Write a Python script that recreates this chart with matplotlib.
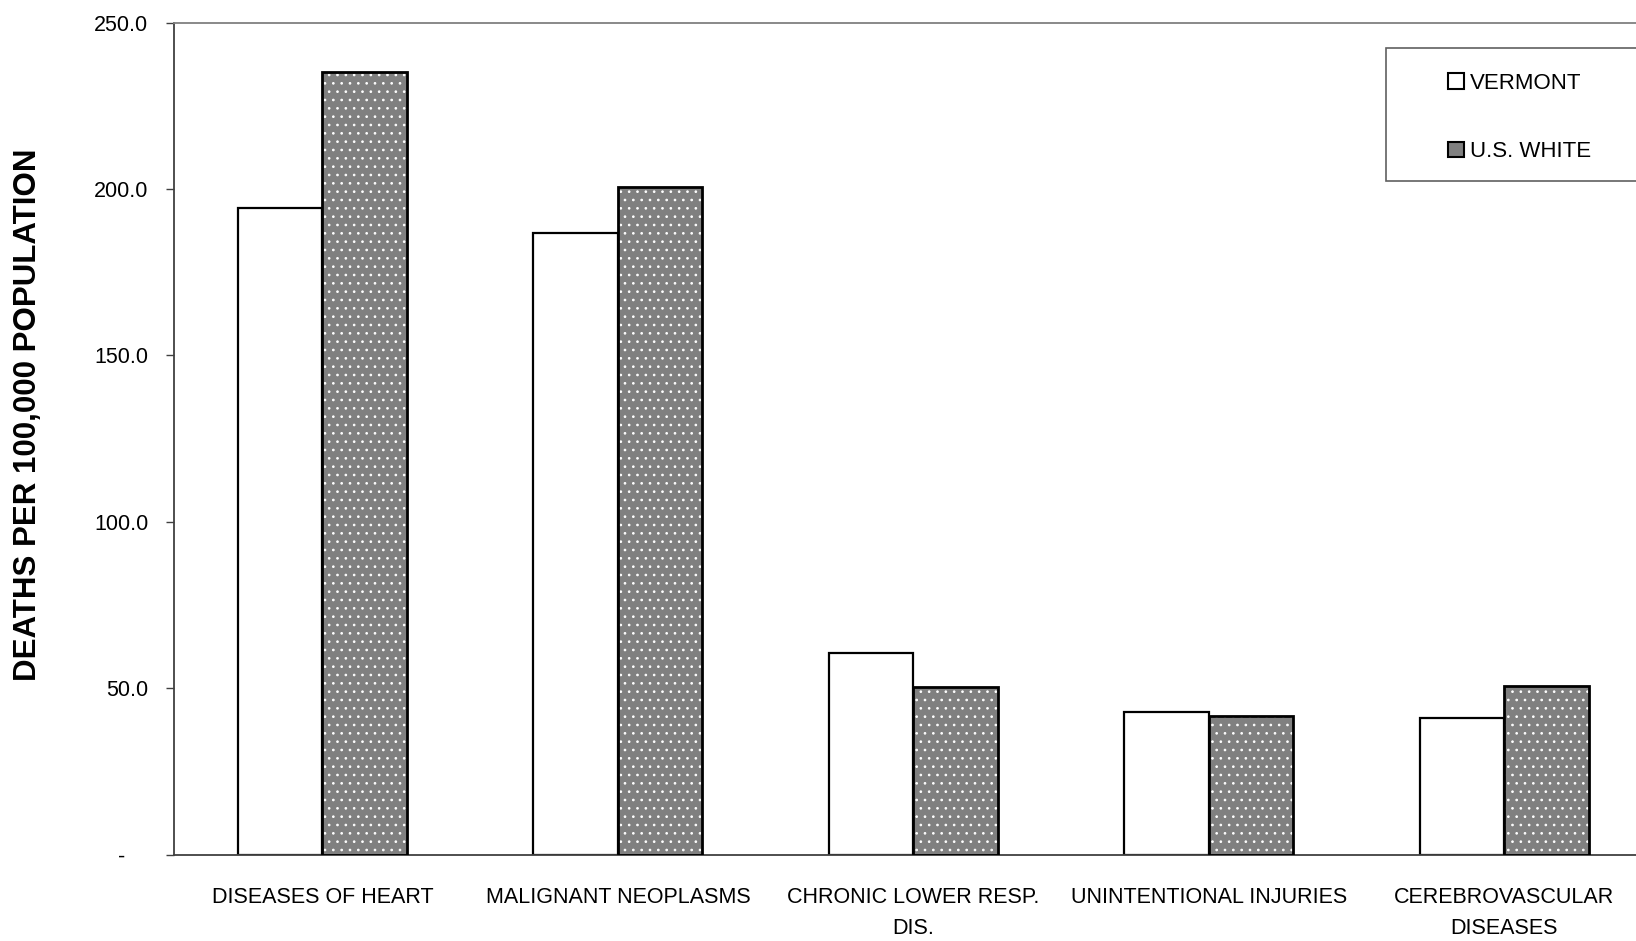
import matplotlib
matplotlib.use("Agg")
import matplotlib.pyplot as plt
import matplotlib.transforms as mtransforms
from matplotlib.patches import Rectangle, Patch
from matplotlib import font_manager
import numpy as np

categories = ["DISEASES OF HEART", "MALIGNANT NEOPLASMS", "CHRONIC LOWER RESP.\nDIS.",
              "UNINTENTIONAL INJURIES", "CEREBROVASCULAR\nDISEASES"]
vermont = [194.4, 186.9, 60.7, 42.9, 41.0]
us_white = [235.3, 200.6, 50.2, 41.6, 50.5]
yticks = [0, 50, 100, 150, 200, 250]
ytick_labels = ["-", "50.0", "100.0", "150.0", "200.0", "250.0"]

names = {f.name for f in font_manager.fontManager.ttflist}
narrow = "Liberation Sans Narrow" if "Liberation Sans Narrow" in names else "Liberation Sans"
plt.rcParams["font.family"] = [narrow, "DejaVu Sans"]
plt.rcParams["hatch.linewidth"] = 0.7
fs = 18 if narrow == "Liberation Sans Narrow" else 15.5

W, H = 1636, 941
fig = plt.figure(figsize=(W / 100, H / 100), dpi=100)
ax = fig.add_axes([174 / W, 1 - 854.5 / H, 1 - 174 / W, (854.5 - 22.7) / H])

x = np.arange(len(categories))
bw = 0.286
gray = "#808080"

ax.bar(x - bw / 2, vermont, bw, color="white", edgecolor="black", linewidth=1.6, zorder=2)
# dotted fill for US white, then outline on top
ax.bar(x + bw / 2, us_white, bw, color=gray, edgecolor="white", hatch="..", linewidth=0, zorder=2)
ax.bar(x + bw / 2, us_white, bw, fill=False, edgecolor="black", linewidth=2.0, zorder=3)

ax.set_xlim(-0.502, 4.445)
ax.set_ylim(0, 250)
ax.set_yticks(yticks)
ax.set_yticklabels(ytick_labels, fontsize=fs)
ax.tick_params(axis="y", direction="out", length=6, width=1, color="#404040", pad=12.5)
ax.set_xticks(x)
ax.set_xticklabels(categories, fontsize=fs, linespacing=1.6)
ax.tick_params(axis="x", length=0, pad=23.5)

# zero label sits further left
zero_lab = ax.get_yticklabels()[0]
zero_lab.set_transform(zero_lab.get_transform() + mtransforms.ScaledTranslation(-23 / 100, 0, fig.dpi_scale_trans))

ax.spines["right"].set_visible(False)
ax.spines["top"].set_color(gray)
ax.spines["left"].set_color("#404040")
ax.spines["bottom"].set_color("#404040")
for s in ax.spines.values():
    s.set_linewidth(1.3)

fig.text(28 / W, 1 - 415 / H, "DEATHS PER 100,000 POPULATION", rotation=90,
         ha="center", va="center", fontsize=22.5, fontweight="bold", family="Liberation Sans")

# legend frame (runs off the right edge)
fig.patches.append(Rectangle((1386 / W, 1 - 181 / H), 400 / W, (181 - 47.7) / H,
                             transform=fig.transFigure, facecolor="white",
                             edgecolor="#606060", linewidth=1.2, zorder=4))
handles = [Patch(facecolor="white", edgecolor="black", linewidth=1.5),
           Patch(facecolor=gray, edgecolor="black", linewidth=1.5)]
fig.legend(handles, ["VERMONT", "U.S. WHITE"], loc="upper left",
           bbox_to_anchor=(1448 / W, 1 - 73 / H), frameon=False, fontsize=fs + 0.5,
           handlelength=0.7, handleheight=0.7, handletextpad=0.3, labelspacing=2.13,
           borderpad=0, borderaxespad=0)

fig.savefig("out.png", dpi=100)
